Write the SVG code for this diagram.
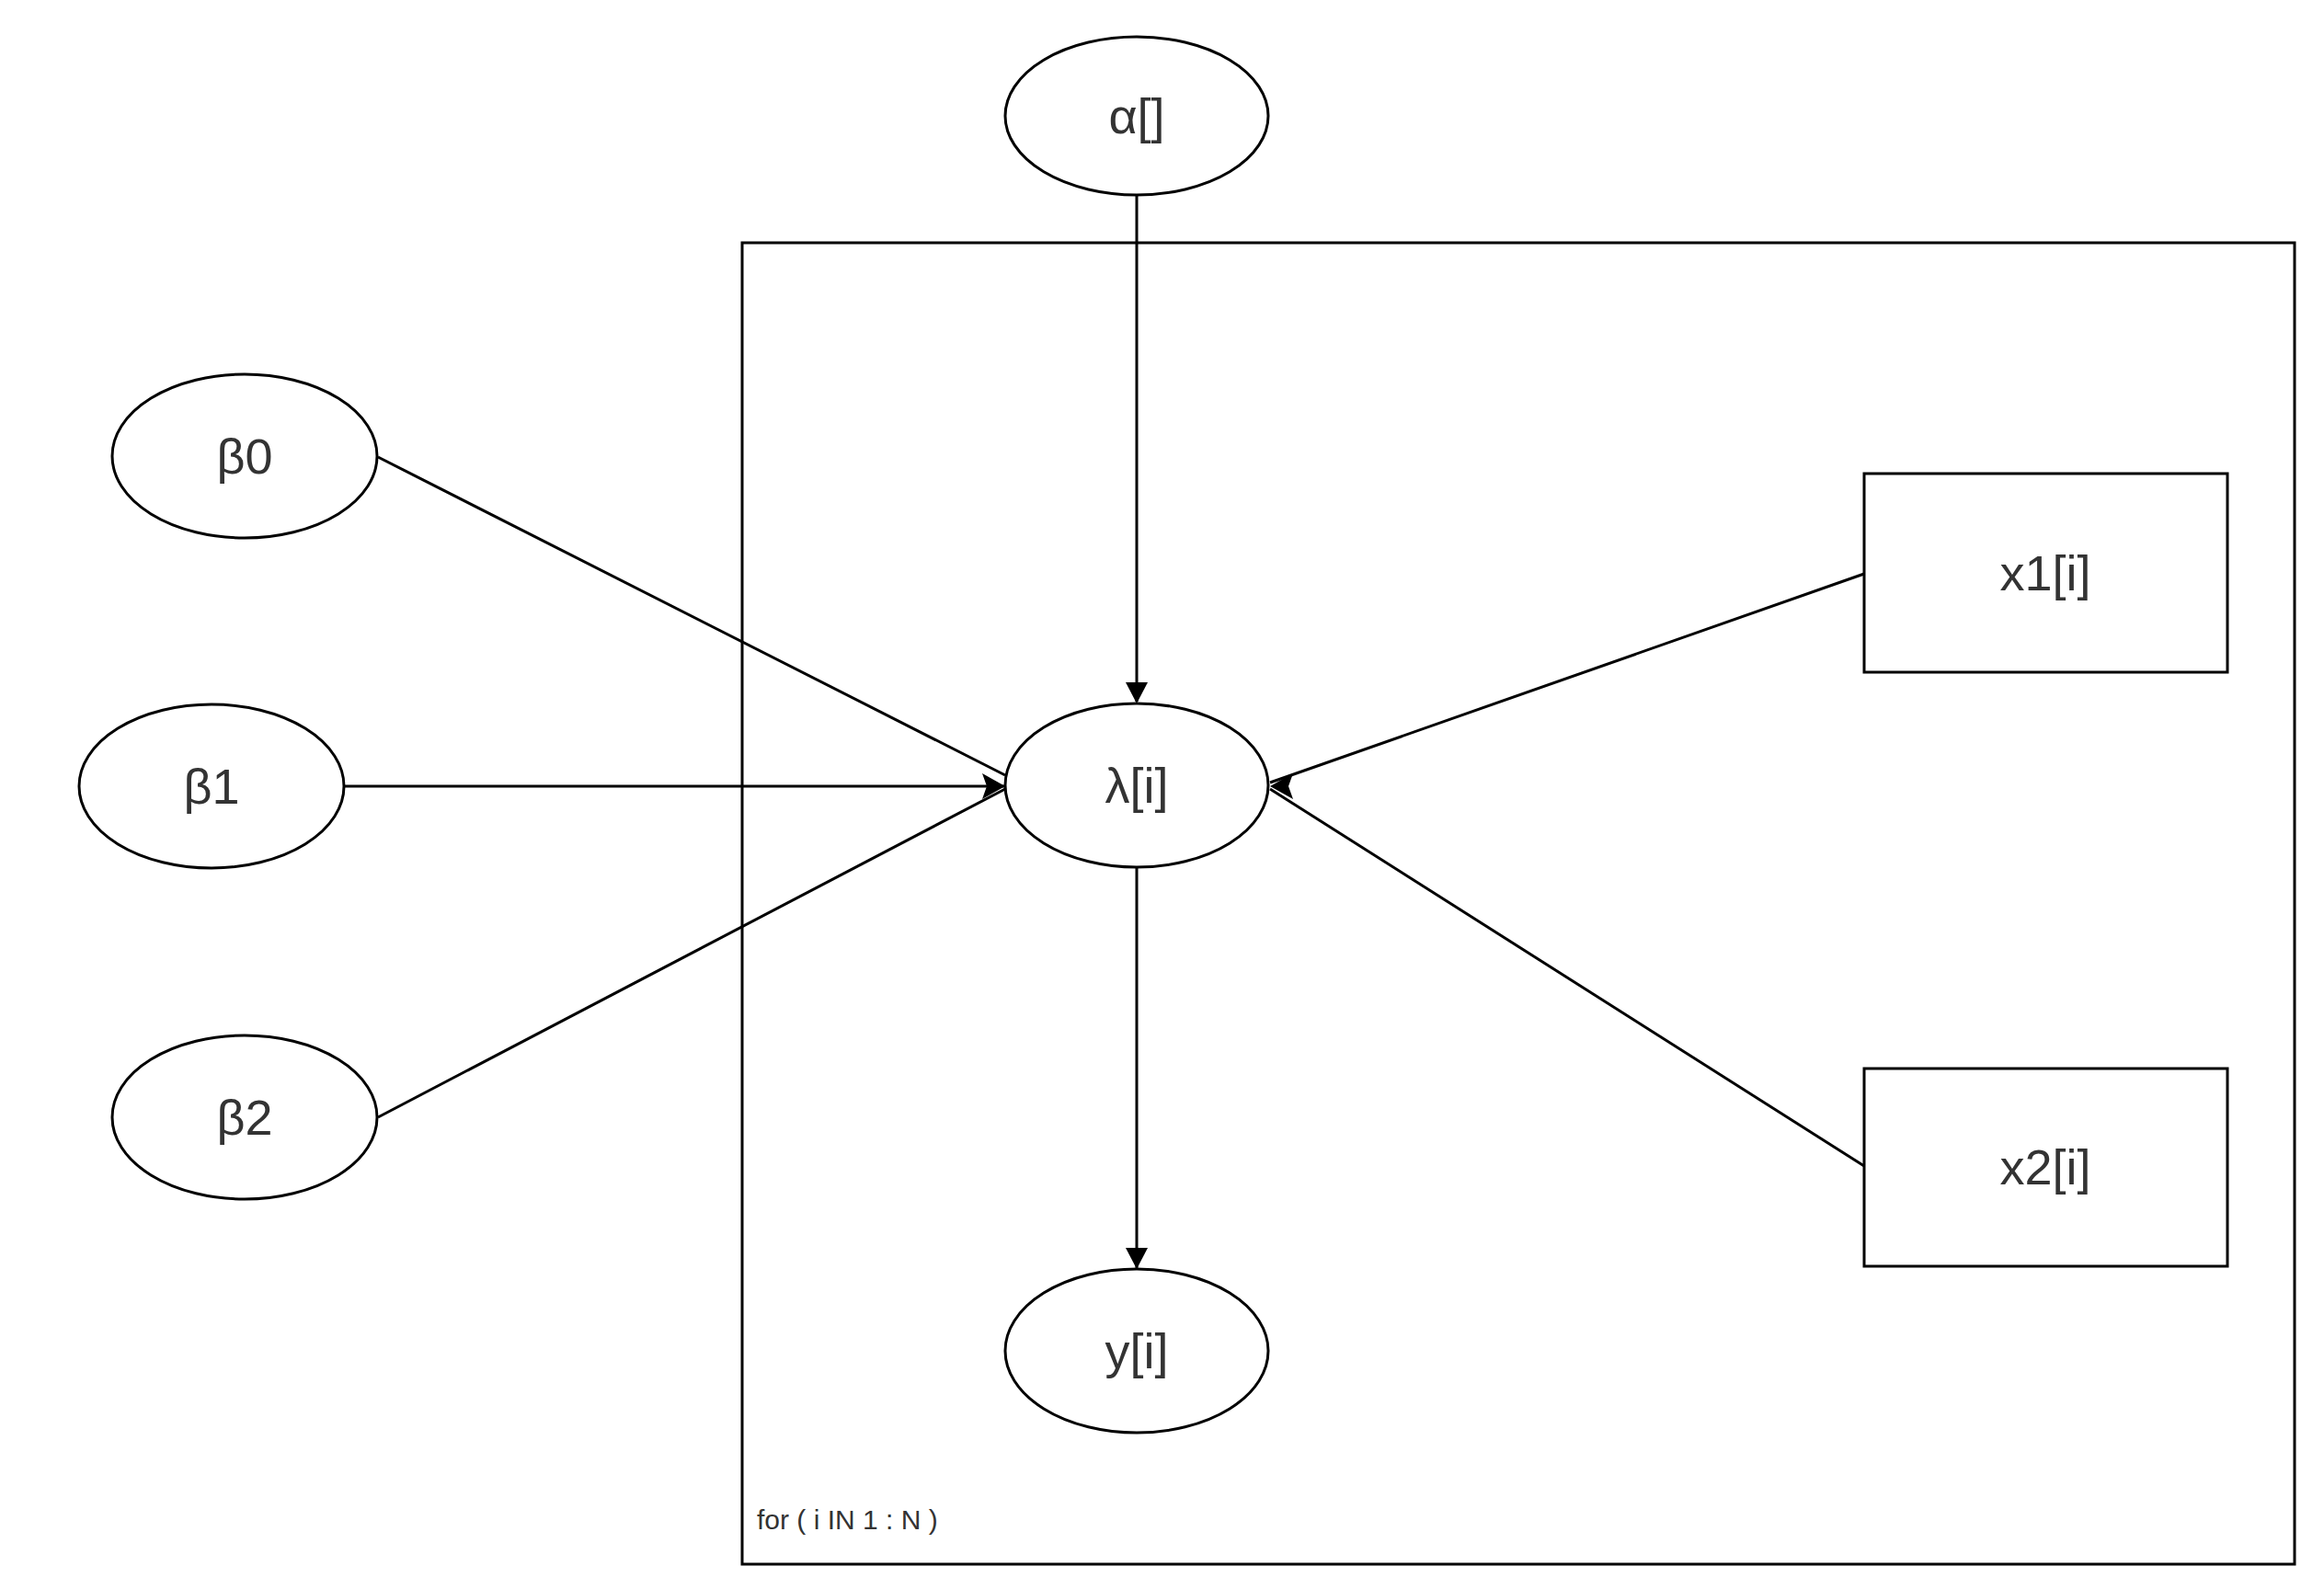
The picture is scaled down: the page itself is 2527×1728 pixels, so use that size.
<svg xmlns="http://www.w3.org/2000/svg" width="2527" height="1728" viewBox="0 0 2527 1728">
<style>
.n{fill:#fff;stroke:#000;stroke-width:3}
.t{font-family:"Liberation Sans Narrow","Liberation Sans",sans-serif;font-size:54px;fill:#333;text-anchor:middle;dominant-baseline:central}
.e{stroke:#000;stroke-width:3;fill:none;marker-end:url(#a)}
</style>
<defs><marker id="a" markerWidth="10" markerHeight="10" refX="9" refY="5" orient="auto" markerUnits="userSpaceOnUse" viewBox="0 0 10 10"><path d="M0,0 L10,5 L0,10 L2,5 Z" fill="#000" transform="scale(1)"/></marker></defs>
<rect width="2527" height="1728" fill="#fff"/>
<g id="plate"><rect x="807" y="264" width="1688" height="1437" fill="none" stroke="#000" stroke-width="3"/>
<text x="823" y="1652" style="font-family:'Liberation Sans Narrow','Liberation Sans',sans-serif;font-size:30px;fill:#333" dominant-baseline="central">for ( i IN 1 : N )</text></g>
<g id="edges">
<line class="e" x1="1236" y1="213" x2="1236" y2="763" style="marker-end:none"/>
<path d="M1224,742 L1236,765 L1248,742 Z"/>
<line x1="1236" y1="943" x2="1236" y2="1380" stroke="#000" stroke-width="3"/>
<path d="M1224,1357 L1236,1380 L1248,1357 Z"/>
<line x1="411" y1="497" x2="1093" y2="843" stroke="#000" stroke-width="3"/>
<line x1="374" y1="855" x2="1093" y2="855" stroke="#000" stroke-width="3"/>
<line x1="411" y1="1215" x2="1093" y2="858" stroke="#000" stroke-width="3"/>
<path d="M1068,841 L1093,855 L1068,869 L1073,855 Z"/>
<line x1="2027" y1="624" x2="1381" y2="851" stroke="#000" stroke-width="3"/>
<line x1="2027" y1="1268" x2="1381" y2="858" stroke="#000" stroke-width="3"/>
<path d="M1406,841 L1381,855 L1406,869 L1401,855 Z"/>
</g>
<g id="alpha"><ellipse class="n" cx="1236" cy="126" rx="143" ry="86"/><text class="t" x="1236" y="126">α[]</text></g>
<g id="beta0"><ellipse class="n" cx="266" cy="496" rx="144" ry="89"/><text class="t" x="266" y="496">β0</text></g>
<g id="beta1"><ellipse class="n" cx="230" cy="855" rx="144" ry="89"/><text class="t" x="230" y="855">β1</text></g>
<g id="beta2"><ellipse class="n" cx="266" cy="1215" rx="144" ry="89"/><text class="t" x="266" y="1215">β2</text></g>
<g id="lambda"><ellipse class="n" cx="1236" cy="854" rx="143" ry="89"/><text class="t" x="1236" y="854">λ[i]</text></g>
<g id="y"><ellipse class="n" cx="1236" cy="1469" rx="143" ry="89"/><text class="t" x="1236" y="1469">y[i]</text></g>
<g id="x1"><rect class="n" x="2027" y="515" width="395" height="216"/><text class="t" x="2224" y="623">x1[i]</text></g>
<g id="x2"><rect class="n" x="2027" y="1162" width="395" height="215"/><text class="t" x="2224" y="1269">x2[i]</text></g>
</svg>
